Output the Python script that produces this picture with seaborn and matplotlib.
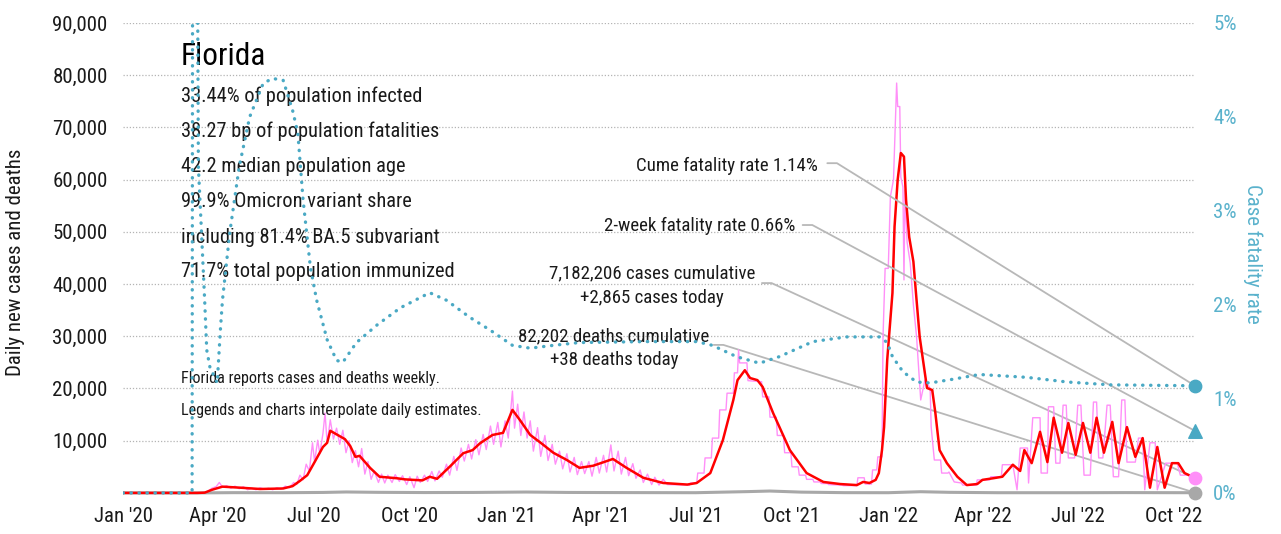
import matplotlib
matplotlib.use("Agg")
import numpy as np
import pandas as pd
import matplotlib.pyplot as plt
import matplotlib.dates as mdates
from matplotlib import font_manager
import seaborn as sns

# ---------------------------------------------------------------
# data (Florida, daily new cases / deaths / CFR)
# ---------------------------------------------------------------
red_dates = [
    "2020-01-01", "2020-03-12", "2020-03-19", "2020-03-26", "2020-04-05",
    "2020-04-22", "2020-05-11", "2020-06-02", "2020-06-11", "2020-06-18",
    "2020-06-25", "2020-07-02", "2020-07-10", "2020-07-14", "2020-07-17",
    "2020-07-24", "2020-07-31", "2020-08-05", "2020-08-10", "2020-08-14",
    "2020-08-24", "2020-09-02", "2020-09-19", "2020-09-26", "2020-10-04",
    "2020-10-13", "2020-10-20", "2020-10-27", "2020-11-08", "2020-11-21",
    "2020-11-30", "2020-12-07", "2020-12-19", "2020-12-29",
    "2021-01-07", "2021-01-14", "2021-01-24", "2021-02-03", "2021-02-15",
    "2021-02-28", "2021-03-12", "2021-03-25", "2021-04-13", "2021-04-26",
    "2021-05-12", "2021-05-31", "2021-06-23", "2021-07-02", "2021-07-15",
    "2021-07-27", "2021-08-06", "2021-08-10", "2021-08-17", "2021-08-22",
    "2021-08-29", "2021-09-03", "2021-09-13", "2021-09-29", "2021-10-15",
    "2021-10-31", "2021-11-16", "2021-12-02", "2021-12-08", "2021-12-14",
    "2021-12-20", "2021-12-23", "2021-12-26", "2021-12-28", "2021-12-31",
    "2022-01-05", "2022-01-07", "2022-01-10", "2022-01-13", "2022-01-16",
    "2022-01-18", "2022-01-21", "2022-01-25", "2022-01-28", "2022-01-31",
    "2022-02-07", "2022-02-12", "2022-02-15", "2022-02-19", "2022-02-26",
    "2022-03-08", "2022-03-17", "2022-03-27", "2022-04-01", "2022-04-11",
    "2022-04-20", "2022-04-30", "2022-05-07", "2022-05-11", "2022-05-18",
    "2022-05-26", "2022-06-02", "2022-06-08", "2022-06-16", "2022-06-22",
    "2022-06-29", "2022-07-06", "2022-07-13", "2022-07-19", "2022-07-26",
    "2022-08-03", "2022-08-09", "2022-08-17", "2022-08-25", "2022-09-01",
    "2022-09-08", "2022-09-15", "2022-09-22", "2022-09-29", "2022-10-05",
    "2022-10-11", "2022-10-21",
]
red_cases = [
    0, 0, 50, 600, 1200,
    1000, 750, 850, 1300, 2300,
    3400, 5900, 8800, 9600, 11900,
    11100, 10300, 9000, 6900, 7100,
    4800, 3100, 2800, 2600, 2500,
    2400, 3100, 2700, 5000, 7600,
    8200, 9500, 11100, 11500,
    15900, 14000, 11100, 9600, 7700,
    6300, 4800, 5200, 6500, 4800,
    2900, 1900, 1600, 1900, 3800,
    10100, 17800, 21600, 23500, 22000,
    21600, 20300, 15300, 8200, 3800,
    2100, 1700, 1500, 2100, 1900,
    2500, 3800, 8200, 12600, 25500,
    38300, 51000, 60000, 65100, 64400,
    56100, 49000, 44300, 37000, 29900,
    20100, 19700, 15300, 8200, 5700,
    3100, 1500, 1700, 2500, 2800,
    3100, 5400, 4200, 8200, 5700,
    11700, 5900, 14400, 7700, 13400,
    7300, 13400, 7700, 14400, 7700,
    13600, 5700, 12600, 6900, 10500,
    1000, 8800, 1000, 5700, 5700,
    3800, 2865,
]

pink_dates = [
    "2020-01-01", "2020-03-18", "2020-03-22", "2020-03-26", "2020-03-30",
    "2020-04-02", "2020-04-05", "2020-04-09", "2020-04-13", "2020-04-17",
    "2020-04-21", "2020-04-25", "2020-04-29", "2020-05-03", "2020-05-07",
    "2020-05-11", "2020-05-15", "2020-05-19", "2020-05-23", "2020-05-27",
    "2020-05-31", "2020-06-04", "2020-06-08", "2020-06-12", "2020-06-15",
    "2020-06-18", "2020-06-21", "2020-06-24", "2020-06-27", "2020-06-30",
    "2020-07-02", "2020-07-05", "2020-07-07", "2020-07-10", "2020-07-12",
    "2020-07-14", "2020-07-17", "2020-07-20", "2020-07-23", "2020-07-26",
    "2020-07-29", "2020-08-01", "2020-08-04", "2020-08-07", "2020-08-10",
    "2020-08-13", "2020-08-16", "2020-08-19", "2020-08-22", "2020-08-25",
    "2020-08-28", "2020-09-01", "2020-09-04", "2020-09-07", "2020-09-10",
    "2020-09-14", "2020-09-17", "2020-09-21", "2020-09-24", "2020-09-28",
    "2020-10-01", "2020-10-05", "2020-10-08", "2020-10-11", "2020-10-15",
    "2020-10-18", "2020-10-22", "2020-10-25", "2020-10-29", "2020-11-01",
    "2020-11-05", "2020-11-08", "2020-11-12", "2020-11-15", "2020-11-19",
    "2020-11-22", "2020-11-26", "2020-11-29", "2020-12-03", "2020-12-06",
    "2020-12-10", "2020-12-13", "2020-12-17", "2020-12-20", "2020-12-24",
    "2020-12-27", "2020-12-31",
    "2021-01-03", "2021-01-07", "2021-01-09", "2021-01-12", "2021-01-15",
    "2021-01-18", "2021-01-21", "2021-01-24", "2021-01-27", "2021-01-31",
    "2021-02-03", "2021-02-07", "2021-02-10", "2021-02-14", "2021-02-17",
    "2021-02-21", "2021-02-24", "2021-02-28", "2021-03-03", "2021-03-07",
    "2021-03-10", "2021-03-14", "2021-03-17", "2021-03-21", "2021-03-24",
    "2021-03-28", "2021-03-31", "2021-04-04", "2021-04-07", "2021-04-11",
    "2021-04-14", "2021-04-18", "2021-04-21", "2021-04-25", "2021-04-28",
    "2021-05-02", "2021-05-05", "2021-05-09", "2021-05-12", "2021-05-16",
    "2021-05-20", "2021-05-23", "2021-05-27", "2021-05-31", "2021-06-04",
    "2021-06-25", "2021-06-26", "2021-07-02", "2021-07-03", "2021-07-09",
    "2021-07-10", "2021-07-16", "2021-07-17", "2021-07-23", "2021-07-24",
    "2021-07-30", "2021-07-31", "2021-08-06", "2021-08-07", "2021-08-10",
    "2021-08-11", "2021-08-12", "2021-08-19", "2021-08-20", "2021-09-02",
    "2021-09-03", "2021-09-09", "2021-09-10", "2021-09-16", "2021-09-17",
    "2021-09-23", "2021-09-24", "2021-09-30", "2021-10-01", "2021-10-07",
    "2021-10-08", "2021-10-14", "2021-10-15", "2021-10-21", "2021-10-22",
    "2021-10-28", "2021-10-29", "2021-11-04", "2021-11-05", "2021-11-18",
    "2021-11-19", "2021-12-02", "2021-12-03", "2021-12-09", "2021-12-10",
    "2021-12-16", "2021-12-17", "2021-12-21", "2021-12-22", "2021-12-26",
    "2021-12-27", "2021-12-29",
    "2022-01-01", "2022-01-03", "2022-01-06", "2022-01-09", "2022-01-10",
    "2022-01-12", "2022-01-13", "2022-01-15", "2022-01-16", "2022-01-17",
    "2022-01-19", "2022-01-22", "2022-01-25", "2022-01-28", "2022-02-01",
    "2022-02-05", "2022-02-10", "2022-02-11", "2022-02-14", "2022-02-20",
    "2022-02-21", "2022-02-27", "2022-02-28", "2022-03-05", "2022-03-12",
    "2022-03-13", "2022-03-26", "2022-03-27", "2022-04-08", "2022-04-09",
    "2022-04-19", "2022-04-20", "2022-04-30", "2022-05-04", "2022-05-07",
    "2022-05-14", "2022-05-15", "2022-05-19", "2022-05-26", "2022-05-27",
    "2022-06-02", "2022-06-03", "2022-06-08", "2022-06-10", "2022-06-14",
    "2022-06-17", "2022-06-20", "2022-06-22", "2022-06-28", "2022-07-01",
    "2022-07-04", "2022-07-07", "2022-07-13", "2022-07-16", "2022-07-19",
    "2022-07-21", "2022-07-25", "2022-07-29", "2022-08-01", "2022-08-04",
    "2022-08-09", "2022-08-12", "2022-08-15", "2022-08-17", "2022-08-25",
    "2022-08-28", "2022-09-01", "2022-09-03", "2022-09-08", "2022-09-13",
    "2022-09-15", "2022-09-23", "2022-10-04", "2022-10-07", "2022-10-20",
    "2022-10-21",
]
pink_cases = [
    0, 0, 300, 900, 1200,
    2000, 1100, 1400, 900, 1300,
    800, 1200, 600, 900, 600,
    1000, 700, 900, 600, 1000,
    700, 1300, 1000, 2000, 1600,
    3400, 2500, 5500, 4200, 9600,
    6000, 10100, 7500, 11400, 15300,
    9500, 14000, 10300, 12400, 9300,
    12000, 7700, 10000, 5800, 8100,
    5000, 8500, 3600, 6000, 2600,
    4200, 2000, 3600, 1900, 3400,
    2000, 3500, 2200, 3300, 1600,
    3100, 1000, 3200, 2000, 3400,
    2200, 4100, 2300, 4200, 3000,
    5500, 3400, 7000, 4300, 8600,
    6100, 9300, 6500, 10200, 7300,
    11200, 8300, 12800, 9300, 13500,
    8800, 13800,
    10500, 19500, 12400, 17000, 11000,
    15500, 10500, 13800, 8000, 12500,
    7000, 11000, 6200, 9300, 5500,
    8000, 4600, 7500, 4000, 6800,
    3500, 6000, 3700, 6000, 3200,
    6800, 3800, 7200, 4000, 9200,
    4200, 8000, 3600, 6800, 3300,
    5600, 2800, 4400, 2000, 3600,
    1600, 3000, 1500, 2600, 1600,
    1500, 1900, 1900, 3800, 3800,
    6700, 6700, 10500, 10500, 15900,
    15900, 19100, 19100, 23000, 23000,
    27400, 24900, 24900, 21500, 21300,
    18400, 18400, 14500, 14500, 11000,
    11000, 7700, 7700, 5000, 5000,
    3400, 3400, 2600, 2600, 2100,
    2100, 1800, 1800, 1600, 1500,
    1400, 1400, 2900, 2900, 1700,
    1700, 4400, 4400, 6900, 6900,
    30000, 43000,
    43000, 56700, 60000, 78500, 74000,
    74000, 60500, 58600, 40800, 58000,
    48000, 44000, 36000, 30000, 17800,
    21600, 20000, 12600, 6300, 6300,
    3800, 3800, 4000, 2100, 1900,
    1500, 1500, 2500, 2500, 3100,
    3100, 5400, 5400, 600, 8600,
    8600, 1900, 14400, 14400, 3800,
    3800, 16500, 16500, 5700, 5700,
    16800, 16800, 6700, 6700, 16800,
    16800, 3400, 3400, 17400, 17400,
    6700, 6700, 16800, 16800, 3100,
    3100, 17800, 17800, 5900, 5900,
    10500, 10500, 600, 9600, 9600,
    600, 5700, 5700, 3400, 3400,
    2865,
]

death_dates = [
    "2020-01-01", "2020-03-15", "2020-04-15", "2020-06-01", "2020-07-10",
    "2020-08-01", "2020-09-01", "2020-10-15", "2020-12-01", "2021-01-20",
    "2021-03-01", "2021-05-01", "2021-07-01", "2021-08-20", "2021-09-10",
    "2021-10-10", "2021-11-20", "2022-01-01", "2022-02-01", "2022-03-01",
    "2022-04-15", "2022-07-01", "2022-08-15", "2022-10-21",
]
deaths = [
    0, 5, 50, 40, 90,
    180, 110, 70, 90, 170,
    90, 60, 40, 250, 360,
    150, 50, 40, 230, 110,
    40, 40, 60, 38,
]

cfr_dates = [
    "2020-01-01", "2020-03-07", "2020-03-08", "2020-03-10", "2020-03-12",
    "2020-03-13", "2020-03-16", "2020-03-19", "2020-03-21", "2020-03-24",
    "2020-03-31", "2020-04-03", "2020-04-05", "2020-04-12", "2020-04-21",
    "2020-05-01", "2020-05-14", "2020-05-23", "2020-06-02", "2020-06-11",
    "2020-06-16", "2020-06-21", "2020-06-28", "2020-07-04", "2020-07-14",
    "2020-07-23", "2020-07-29", "2020-08-11", "2020-08-31", "2020-09-22",
    "2020-10-20", "2020-11-05", "2020-11-27", "2020-12-17", "2021-01-07",
    "2021-01-24", "2021-02-15", "2021-03-12", "2021-05-15", "2021-07-02",
    "2021-07-17", "2021-08-09", "2021-08-31", "2021-09-19", "2021-10-09",
    "2021-10-21", "2021-11-22", "2021-12-24", "2021-12-31", "2022-01-05",
    "2022-01-15", "2022-01-28", "2022-02-10", "2022-03-04", "2022-03-29",
    "2022-05-13", "2022-06-21", "2022-08-01", "2022-10-21",
]
cfr_pct = [
    0, 0, 12, 14, 6,
    3.47, 2.77, 2.05, 1.52, 1.34,
    1.17, 1.73, 2.05, 2.77, 3.47,
    4.0, 4.36, 4.41, 4.39, 4.07,
    3.83, 3.12, 2.4, 2.05, 1.63,
    1.41, 1.39, 1.6, 1.79, 1.97,
    2.13, 2.05, 1.87, 1.73, 1.57,
    1.54, 1.57, 1.6, 1.61, 1.61,
    1.57, 1.45, 1.38, 1.45, 1.55,
    1.61, 1.66, 1.66, 1.6, 1.45,
    1.29, 1.18, 1.17, 1.21, 1.26,
    1.23, 1.18, 1.15, 1.14,
]

two_week_cfr = 0.66
stats_lines = [
    "33.44% of population infected",
    "38.27 bp of population fatalities",
    "42.2 median population age",
    "99.9% Omicron variant share",
    "including 81.4% BA.5 subvariant",
    "71.7% total population immunized",
]

# ---------------------------------------------------------------
# style
# ---------------------------------------------------------------
sns.set_theme(style="white")
installed = {f.name for f in font_manager.fontManager.ttflist}
narrow = next((n for n in ["Liberation Sans Narrow", "Roboto Condensed", "Liberation Sans"]
               if n in installed), "DejaVu Sans")
plt.rcParams["font.family"] = [narrow, "DejaVu Sans"]

RED = "#ff0000"
PINK = "#ff8ff8"
BLUE = "#4aa9c4"
BLUE_TXT = "#5ab2cc"
GRAY = "#a8a8a8"
LEADER = "#b8b8b8"
INK = "#1a1a1a"

red_df = pd.DataFrame({"date": pd.to_datetime(red_dates), "cases": red_cases})
pink_df = pd.DataFrame({"date": pd.to_datetime(pink_dates), "cases": pink_cases})
death_df = pd.DataFrame({"date": pd.to_datetime(death_dates), "deaths": deaths})
cfr_df = pd.DataFrame({"date": pd.to_datetime(cfr_dates), "cfr": cfr_pct})

W, H = 1281, 534
fig = plt.figure(figsize=(W / 100, H / 100), dpi=100)
ax = fig.add_axes([123 / W, (H - 495) / H, 1072 / W, 472 / H])
ax2 = ax.twinx()

sns.lineplot(data=pink_df, x="date", y="cases", ax=ax, color=PINK, lw=1.0,
             estimator=None, legend=False, zorder=2)
sns.lineplot(data=death_df, x="date", y="deaths", ax=ax, color=GRAY, lw=2.2,
             estimator=None, legend=False, zorder=3)
sns.lineplot(data=red_df, x="date", y="cases", ax=ax, color=RED, lw=1.8,
             estimator=None, legend=False, zorder=4)
sns.lineplot(data=cfr_df, x="date", y="cfr", ax=ax2, color=BLUE, lw=2.4,
             linestyle=(0, (0.1, 2.3)), dash_capstyle="round",
             estimator=None, legend=False)

start, end = pd.Timestamp("2020-01-01"), pd.Timestamp("2022-10-21")
ax.set_xlim(start, end)
ax.set_ylim(-400, 90000)
ax2.set_ylim(-400 / 18000, 5)

ax.set_yticks(range(10000, 90001, 10000))
ax.set_yticklabels([f"{v:,}" for v in range(10000, 90001, 10000)])
ax2.set_yticks(range(0, 6))
ax2.set_yticklabels([f"{v}%" for v in range(0, 6)])
ax.xaxis.set_major_locator(mdates.MonthLocator(bymonth=[1, 4, 7, 10]))
ax.xaxis.set_major_formatter(mdates.DateFormatter("%b '%y"))

ax.tick_params(axis="y", length=0, pad=11, labelsize=15, labelcolor=INK)
ax.tick_params(axis="x", length=0, pad=9, labelsize=15, labelcolor=INK)
ax2.tick_params(axis="y", length=0, pad=13, labelsize=15, labelcolor=BLUE_TXT)
ax.yaxis.grid(True, linestyle=(0, (1, 1.5)), color="#b4b4b4", lw=0.9)
ax.xaxis.grid(False)
for a in (ax, ax2):
    a.set_xlabel("")
    a.set_ylabel("")
    for s in a.spines.values():
        s.set_visible(False)

fig.text(16 / W, 1 - 262 / H, "Daily new cases and deaths", rotation=90,
         ha="center", va="center", fontsize=15, color=INK)
fig.text(1253 / W, 1 - 254 / H, "Case fatality rate", rotation=270,
         ha="center", va="center", fontsize=15, color=BLUE_TXT)

# ---------------------------------------------------------------
# text block
# ---------------------------------------------------------------
tx = 0.054
ax.text(tx, 0.911, "Florida", transform=ax.transAxes, fontsize=22.5,
        color="black", va="baseline")
for yy, line in zip([0.833, 0.758, 0.684, 0.610, 0.534, 0.462], stats_lines):
    ax.text(tx, yy, line, transform=ax.transAxes, fontsize=14.7, color=INK,
            va="baseline")
ax.text(tx, 0.237, "Florida reports cases and deaths weekly.",
        transform=ax.transAxes, fontsize=11.6, color=INK, va="baseline")
ax.text(tx, 0.169, "Legends and charts interpolate daily estimates.",
        transform=ax.transAxes, fontsize=11.6, color=INK, va="baseline")

end_num = mdates.date2num(end)


def leader(axis, yval, start_xy, gap=0.009):
    corner = ax.transAxes.transform((start_xy[0] + gap, start_xy[1]))
    target = axis.transData.transform((end_num, yval))
    ang = np.degrees(np.arctan2(corner[1] - target[1], corner[0] - target[0]))
    axis.annotate("", xy=(end_num, yval), xycoords="data",
                  xytext=start_xy, textcoords="axes fraction",
                  arrowprops=dict(arrowstyle="-", color=LEADER, lw=1.3,
                                  shrinkA=0, shrinkB=0,
                                  connectionstyle=f"angle,angleA=0,angleB={ang},rad=0"),
                  annotation_clip=False, zorder=1)


ANN = 13.6
ax.text(0.648, 0.686, f"Cume fatality rate {cfr_pct[-1]:.2f}%",
        transform=ax.transAxes, fontsize=ANN, color=INK, ha="right", va="baseline")
leader(ax2, cfr_pct[-1], (0.657, 0.703))

ax.text(0.627, 0.559, f"2-week fatality rate {two_week_cfr:.2f}%",
        transform=ax.transAxes, fontsize=ANN, color=INK, ha="right", va="baseline")
leader(ax2, two_week_cfr, (0.634, 0.572))

ax.text(0.4935, 0.460, "7,182,206 cases cumulative", transform=ax.transAxes,
        fontsize=ANN, color=INK, ha="center", va="baseline")
ax.text(0.4935, 0.407, f"+{red_cases[-1]:,} cases today", transform=ax.transAxes,
        fontsize=ANN, color=INK, ha="center", va="baseline")
leader(ax, red_cases[-1], (0.596, 0.449))

ax.text(0.458, 0.326, "82,202 deaths cumulative", transform=ax.transAxes,
        fontsize=ANN, color=INK, ha="center", va="baseline")
ax.text(0.458, 0.275, f"+{deaths[-1]} deaths today", transform=ax.transAxes,
        fontsize=ANN, color=INK, ha="center", va="baseline")
leader(ax, deaths[-1], (0.551, 0.318))

# end markers
ax.scatter([end], [red_cases[-1]], s=80, color=PINK, zorder=6, clip_on=False)
ax.scatter([end], [deaths[-1]], s=80, color=GRAY, zorder=6, clip_on=False)
ax2.scatter([end], [cfr_pct[-1]], s=80, color=BLUE, zorder=6, clip_on=False)
ax2.scatter([end], [two_week_cfr], s=95, marker="^", color=BLUE, zorder=6,
            clip_on=False)

fig.savefig("out.png", dpi=100, facecolor="white")
